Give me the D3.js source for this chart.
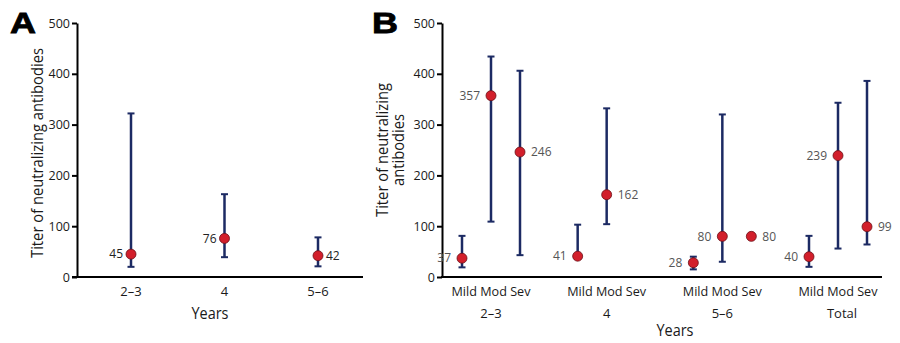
<!DOCTYPE html>
<html lang="en">
<head>
    <meta charset="UTF-8">
    <script src="https://cdn.jsdelivr.net/npm/d3@7"></script>
    <title>Neutralizing antibody titers</title>
    <style>
        html,
        body {
            margin: 0px;
            padding: 0px;
            background-color: #ffffff;
            font-family: "Open Sans", sans-serif;
        }
        svg text {
            fill: #1a1a1a;
        }
        .val-a { font-size: 12px; fill: #222; }
        .val-b { font-size: 12px; fill: #555; }
    </style>
</head>
<body>
    <svg id="chart" width="900" height="343"></svg>

    <script>
        // panel A: by age group
        let yearsA = ['2–3', '4', '5–6'];
        let medianA = [45, 76, 42];
        let lowA = [20, 39, 21];
        let highA = [322, 163, 78];
        let sideA = ['L', 'L', 'R'];

        // panel B: by age group and severity
        let groupsB = ['2–3', '4', '5–6', 'Total'];
        let severity = ['Mild', 'Mod', 'Sev'];
        let medianB = [[37, 357, 246], [41, 162, null], [28, 80, 80], [40, 239, 99]];
        let lowB = [[19, 109, 43], [36, 104, null], [15, 30, null], [20, 56, 64]];
        let highB = [[81, 434, 406], [103, 332, null], [40, 320, null], [81, 343, 386]];
        let sideB = [['L', 'L', 'R'], ['L', 'R', null], ['L', 'L', 'R'], ['L', 'L', 'R']];

        let yTicks = [0, 100, 200, 300, 400, 500];

        let svg = d3.select('#chart');
        let navy = '#1c2a63';
        let red = '#d21f2b';

        let y = d3.scaleLinear().domain([0, 500]).range([277, 23]);

        function yAxis(g, x0) {
            g.attr('transform', `translate(${x0},0)`)
                .call(d3.axisLeft(y).tickValues(yTicks).tickSize(5).tickSizeOuter(0).tickPadding(2));
            g.select('.domain').attr('stroke', '#000').attr('stroke-width', 2);
            g.selectAll('.tick line').attr('stroke', '#000').attr('stroke-width', 2);
            g.selectAll('.tick text').attr('font-size', 12.5).attr('font-family', '"Open Sans", sans-serif');
        }

        function errorBar(g, x, lo, hi) {
            g.append('line')
                .attr('x1', x).attr('x2', x)
                .attr('y1', y(lo)).attr('y2', y(hi))
                .attr('stroke', navy).attr('stroke-width', 2.5);
            [lo, hi].forEach(v => {
                g.append('line')
                    .attr('x1', x - 3.5).attr('x2', x + 3.5)
                    .attr('y1', y(v)).attr('y2', y(v))
                    .attr('stroke', navy).attr('stroke-width', 2);
            });
        }

        function dot(g, x, v, side, cls, off) {
            g.append('circle')
                .attr('cx', x).attr('cy', y(v)).attr('r', 5)
                .attr('fill', red).attr('stroke', '#6b1018').attr('stroke-width', 0.8);
            g.append('text')
                .attr('class', cls)
                .attr('x', side === 'L' ? x - off : x + off)
                .attr('y', y(v))
                .attr('dy', '0.35em')
                .attr('text-anchor', side === 'L' ? 'end' : 'start')
                .text(v);
        }

        function panelLetter(g, x, s) {
            g.append('text').attr('x', x).attr('y', 33)
                .attr('font-family', '"Liberation Sans", Arial, sans-serif')
                .attr('font-weight', 'bold').attr('font-size', 29)
                .attr('textLength', 26).attr('lengthAdjust', 'spacingAndGlyphs')
                .attr('stroke', '#000').attr('stroke-width', 0.8)
                .style('fill', '#000').text(s);
        }

        // ---- panel A ----
        let gA = svg.append('g');
        let xA = d3.scalePoint().domain(yearsA).range([131, 318]);

        gA.append('line').attr('x1', 72).attr('x2', 363).attr('y1', 277).attr('y2', 277)
            .attr('stroke', '#000').attr('stroke-width', 2);
        gA.append('g').call(g => yAxis(g, 77));

        yearsA.forEach((d, i) => {
            errorBar(gA, xA(d), lowA[i], highA[i]);
            dot(gA, xA(d), medianA[i], sideA[i], 'val-a', 8);
            gA.append('text').attr('x', xA(d)).attr('y', 291).attr('dy', '0.35em')
                .attr('text-anchor', 'middle').attr('font-size', 13).text(d);
        });

        gA.append('text').attr('x', 210).attr('y', 313).attr('dy', '0.35em')
            .attr('text-anchor', 'middle').attr('font-size', 16)
            .attr('textLength', 37).attr('lengthAdjust', 'spacingAndGlyphs').text('Years');
        gA.append('text').attr('transform', 'translate(43,153) rotate(-90)')
            .attr('text-anchor', 'middle').attr('font-size', 15.5)
            .attr('textLength', 210).attr('lengthAdjust', 'spacingAndGlyphs')
            .text('Titer of neutralizing antibodies');
        panelLetter(gA, 10, 'A');

        // ---- panel B ----
        let gB = svg.append('g');
        let xB = d3.scalePoint().domain(groupsB).range([491, 838]);
        let xS = d3.scalePoint().domain(severity).range([-29, 29]);

        gB.append('line').attr('x1', 441).attr('x2', 882).attr('y1', 277).attr('y2', 277)
            .attr('stroke', '#000').attr('stroke-width', 2);
        gB.append('g').call(g => yAxis(g, 442));

        groupsB.forEach((grp, i) => {
            let cx = xB(grp);
            severity.forEach((s, j) => {
                let x = cx + xS(s);
                if (highB[i][j] !== null) errorBar(gB, x, lowB[i][j], highB[i][j]);
                if (medianB[i][j] !== null) dot(gB, x, medianB[i][j], sideB[i][j], 'val-b', 11);
            });
            gB.append('text').attr('x', cx).attr('y', 291).attr('dy', '0.35em')
                .attr('text-anchor', 'middle').attr('font-size', 13)
                .attr('textLength', 79).attr('lengthAdjust', 'spacingAndGlyphs')
                .text(severity.join(' '));
            gB.append('text').attr('x', grp === 'Total' ? cx + 4 : cx).attr('y', 313).attr('dy', '0.35em')
                .attr('text-anchor', 'middle').attr('font-size', 13).text(grp);
        });

        gB.append('text').attr('x', 675).attr('y', 330).attr('dy', '0.35em')
            .attr('text-anchor', 'middle').attr('font-size', 16)
            .attr('textLength', 37).attr('lengthAdjust', 'spacingAndGlyphs').text('Years');
        let yl = gB.append('text').attr('transform', 'translate(388,150) rotate(-90)')
            .attr('text-anchor', 'middle').attr('font-size', 15.5);
        yl.append('tspan').attr('x', 0).attr('dy', 0)
            .attr('textLength', 134).attr('lengthAdjust', 'spacingAndGlyphs').text('Titer of neutralizing');
        yl.append('tspan').attr('x', 0).attr('dy', 16)
            .attr('textLength', 72).attr('lengthAdjust', 'spacingAndGlyphs').text('antibodies');
        panelLetter(gB, 372, 'B');
    </script>
</body>
</html>
